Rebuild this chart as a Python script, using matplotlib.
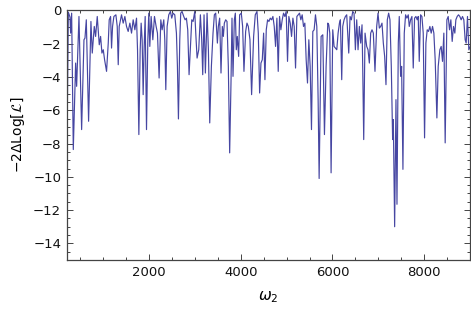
import matplotlib
matplotlib.use("Agg")
import matplotlib.pyplot as plt
from matplotlib.ticker import MultipleLocator

# omega_2 positions and -2 Delta Log[L] values
omega = [
    200, 214, 236, 272, 286, 308, 344, 395, 417, 468, 526, 577, 599, 628, 678,
    729, 758, 802, 831, 867, 911, 940, 969, 998, 1027, 1070, 1107, 1128, 1158,
    1179, 1201, 1230, 1274, 1303, 1325, 1346, 1375, 1397, 1433, 1470, 1506,
    1542, 1579, 1615, 1651, 1688, 1724, 1746, 1775, 1804, 1825, 1847, 1869,
    1891, 1913, 1942, 1971, 1992, 2014, 2043, 2080, 2116, 2152, 2181, 2217,
    2254, 2283, 2319, 2341, 2363, 2392, 2428, 2464, 2493, 2522, 2559, 2595,
    2617, 2639, 2668, 2689, 2718, 2755, 2784, 2813, 2842, 2871,
    2908, 2930, 2959, 2995, 3017, 3046, 3082, 3118, 3147, 3169, 3198, 3227,
    3264, 3293, 3322, 3358, 3394, 3423, 3452, 3489, 3510, 3539, 3568, 3597,
    3619, 3641, 3670, 3699, 3728, 3757, 3786, 3808, 3830, 3859, 3881, 3902,
    3924, 3953, 3975, 4011, 4040, 4069, 4106, 4135, 4164, 4200, 4236, 4280,
    4316, 4353, 4382, 4411, 4440, 4469, 4498, 4527, 4556, 4585, 4614, 4643,
    4672, 4701, 4730, 4759, 4788, 4817, 4846, 4875, 4904, 4933, 4962, 4991,
    5020, 5049, 5079, 5108, 5137, 5166, 5195, 5224, 5253, 5282, 5311, 5340,
    5369, 5398, 5427, 5456, 5485, 5514, 5543, 5572, 5601, 5630, 5659, 5688,
    5710,
    5753, 5790, 5826, 5862, 5899, 5920, 5942, 5971, 6007, 6036, 6065, 6095,
    6124, 6153, 6174, 6203, 6225, 6254, 6283, 6312, 6334, 6356, 6385, 6414,
    6443, 6472, 6501, 6530, 6559, 6588, 6617, 6646, 6661, 6683, 6712, 6748,
    6777, 6806, 6835, 6864, 6893, 6929, 6966, 6995, 7024, 7053, 7082, 7111,
    7140, 7169, 7198, 7227, 7256, 7285, 7314, 7329, 7358, 7387, 7409, 7438,
    7459, 7488, 7510, 7539, 7568, 7597, 7626, 7655, 7677, 7706, 7735, 7764,
    7793, 7822, 7851, 7873, 7895, 7924, 7953, 7982, 8011, 8040, 8069, 8098,
    8127, 8156, 8185, 8214, 8243, 8280, 8309, 8345, 8374, 8403, 8432, 8461,
    8498, 8527, 8556, 8585, 8614, 8643, 8672, 8694, 8723, 8752, 8781, 8810,
    8839, 8868, 8897, 8919, 8948, 8977, 9000,
]
loglik = [
    -0.3, -6.0, -0.1, -0.4, -1.36, -0.16, -8.36, -3.16, -4.56, -0.36, -7.16,
    -1.76, -1.66, -0.56, -6.66, -0.66, -2.56, -0.96, -1.56, -0.36, -2.06,
    -1.56, -2.56, -2.36, -2.96, -3.66, -1.96, -0.56, -0.36, -2.26, -0.96,
    -0.36, -0.26, -0.96, -3.26, -0.96, -0.56, -0.26, -0.76, -0.36, -0.96,
    -1.26, -0.76, -1.36, -0.56, -1.16, -0.46, -2.36, -7.46, -2.36, -0.76,
    -1.76, -5.06, -2.16, -0.36, -7.16, -1.76, -0.16, -2.16, -0.36, -1.76,
    -0.36, -0.96, -1.36, -4.06, -0.56, -1.16, -0.56, -1.76, -4.76, -0.96,
    -0.26, -0.06, -0.46, -0.16, -0.26, -1.36, -3.36, -6.52, -1.76, -0.16,
    -0.06, -0.36, -0.56, -0.46, -1.16, -3.86,
    -1.76, -0.56, -0.66, -0.06, -1.36, -2.86, -2.36, -0.26, -1.76, -3.86,
    -0.26, -3.76, -0.16, -2.36, -6.76, -3.36, -1.36, -0.26, -0.16, -1.96,
    -0.96, -0.46, -3.76, -0.96, -1.56, -0.76, -0.56, -0.66, -3.36, -8.56,
    -4.36, -0.46, -3.96, -0.56, -0.16, -2.36, -1.56, -2.76, -0.26, -0.16,
    -0.96, -3.66, -1.26, -0.76, -0.96, -1.76, -5.06, -1.56, -0.26, -0.06,
    -1.36, -4.96, -3.16, -2.96, -1.36, -4.16, -1.16, -0.56, -0.66, -0.46,
    -0.56, -0.36, -0.96, -2.16, -0.46, -3.66, -0.36, -1.16, -0.56, -0.16,
    -0.36, -0.06, -3.06, -0.36, -0.76, -1.56, -0.46, -0.96, -3.46, -0.36,
    -0.26, -0.16, -0.56, -0.26, -0.96, -0.76, -2.96, -4.36, -1.76, -3.36,
    -7.16, -1.26, -1.16, -0.26, -0.96, -5.36, -10.1,
    -1.56, -1.46, -7.46, -3.36, -0.76, -0.86, -1.36, -9.76, -1.16, -2.16,
    -2.26, -2.36, -1.36, -0.76, -0.56, -4.16, -0.96, -0.56, -0.36, -0.26,
    -1.46, -2.56, -0.36, -0.56, -0.06, -0.16, -2.36, -0.56, -2.36, -0.96,
    -1.96, -0.86, -3.36, -7.76, -1.36, -2.16, -2.36, -3.16, -1.36, -1.16,
    -1.36, -3.66, -0.96, -0.16, -1.06, -0.96, -0.76, -1.96, -2.76, -4.46,
    -0.56, -0.16, -0.56, -3.36, -7.76, -6.56, -13.0, -5.36, -11.65, -1.96,
    -0.36, -3.96, -3.36, -9.55, -1.36, -0.26, -0.46, -0.26, -0.96, -0.56,
    -0.36, -3.46, -0.46, -0.36, -0.56, -0.36, -3.06, -0.26, -0.36, -1.36,
    -7.66, -1.96, -1.16, -1.26, -0.96, -1.36, -0.96, -1.36, -2.96, -6.46,
    -3.36, -2.36, -2.16, -3.06, -1.36, -7.96, -0.56, -0.36, -1.16, -0.56,
    -1.86, -0.96, -1.36, -0.56, -0.36, -0.26, -0.36, -0.56, -0.36, -0.56,
    -1.76, -1.96, -0.36, -2.36, -2.2,
]

fig = plt.figure(figsize=(4.71, 3.14), dpi=100)
ax = fig.add_axes([0.1416, 0.172, 0.856, 0.7946])

ax.plot(omega, loglik, color='#4646a2', lw=0.85)

ax.set_xlim(200, 9000)
ax.set_ylim(-15, 0)
ax.xaxis.set_major_locator(MultipleLocator(2000))
ax.xaxis.set_minor_locator(MultipleLocator(500))
ax.yaxis.set_major_locator(MultipleLocator(2))
ax.yaxis.set_minor_locator(MultipleLocator(0.5))

frame = '#444444'
for s in ax.spines.values():
    s.set_color(frame)
    s.set_linewidth(0.9)
ax.tick_params(which='both', direction='in', top=True, right=True,
               color=frame, width=0.7, labelsize=9.5, labelcolor='#111111')
ax.tick_params(which='major', length=4, pad=4)
ax.tick_params(which='minor', length=2.3)

ax.set_xlabel(r'$\omega_2$', fontsize=11, labelpad=8)
ax.set_ylabel(r'$-2\Delta\mathrm{Log}[\mathcal{L}]$', fontsize=10, labelpad=4)

fig.savefig('out.png', dpi=100)
